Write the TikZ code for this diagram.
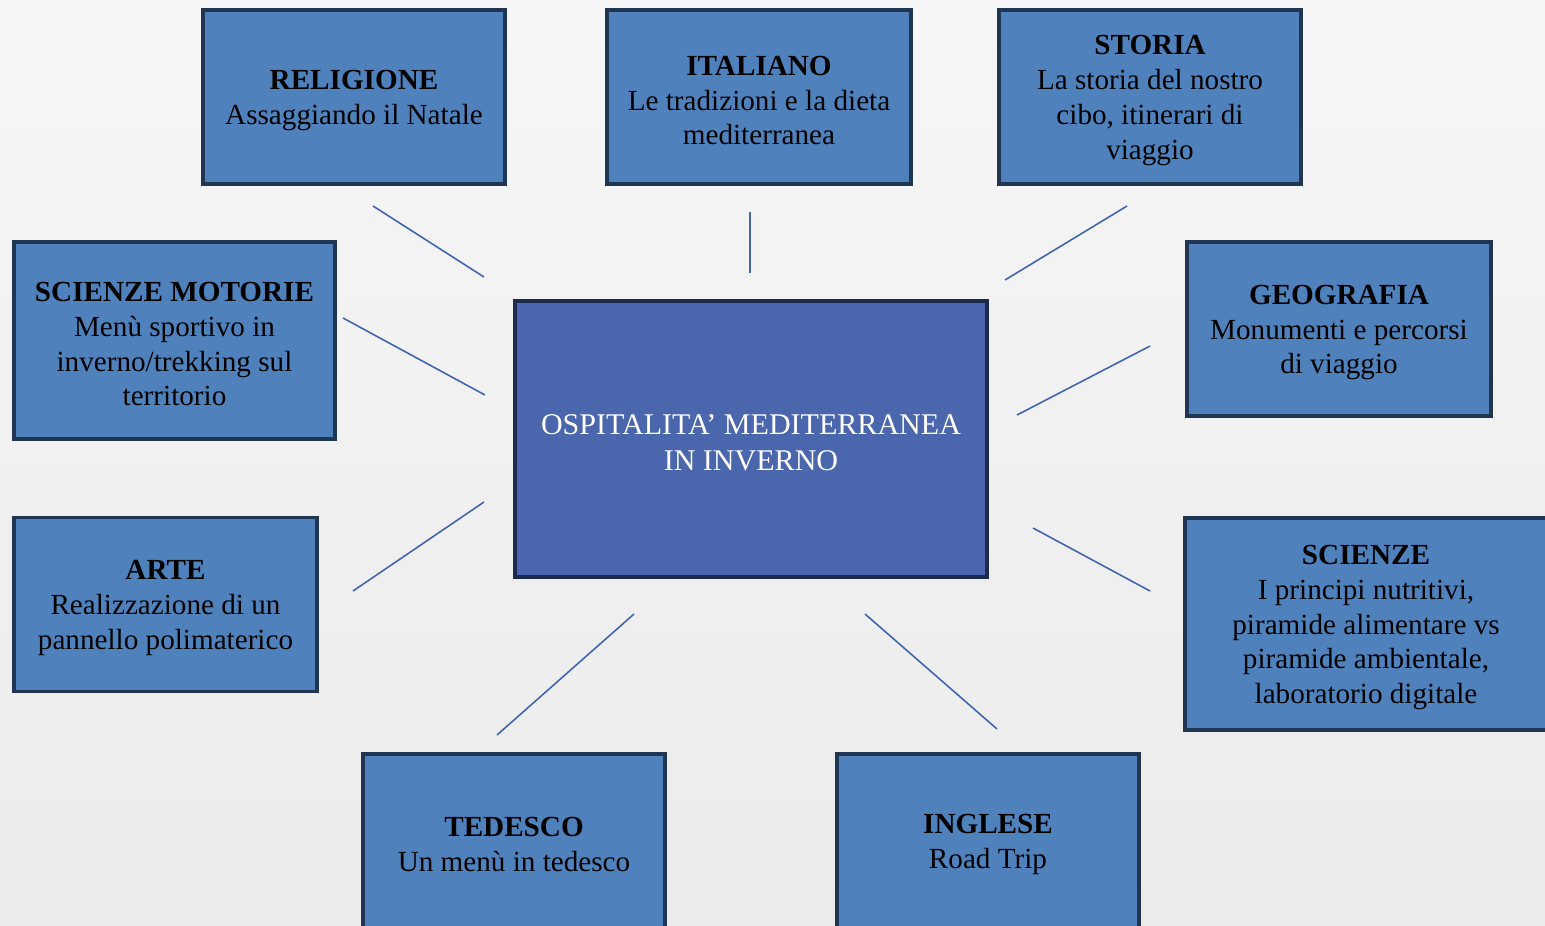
\documentclass[tikz,border=0pt]{standalone}
\usepackage{fontspec}
\setmainfont{Liberation Serif}
\definecolor{boxblue}{HTML}{4F81BD}
\definecolor{boxline}{HTML}{1F3552}
\definecolor{mainblue}{HTML}{4A66AC}
\definecolor{mainline}{HTML}{1C2A4C}
\definecolor{linkblue}{HTML}{4263B1}
\definecolor{bgtop}{HTML}{F6F6F6}
\definecolor{bgbot}{HTML}{EBEBEB}
\newcommand{\subjtitle}[1]{\rule{0pt}{15pt}\textbf{#1}}
\begin{document}
\begin{tikzpicture}[x=0.02cm, y=-0.02cm,
  subj/.style={draw=boxline, fill=boxblue, line width=2.2pt, align=center, inner sep=0pt,
    font=\fontsize{16.6}{19.9}\selectfont, text=black, minimum height=3.48cm},
  link/.style={draw=linkblue, line width=0.9pt}]
\useasboundingbox (0,0) rectangle (1545,926);
\clip (0,0) rectangle (1545,926);
\shade[top color=bgtop, bottom color=bgbot] (0,0) rectangle (1545,926);
% centre
\node[subj, draw=mainline, fill=mainblue, text=white, font=\fontsize{17.1}{20.4}\selectfont,
  minimum width=9.44cm, minimum height=5.52cm] (main) at (751,439) {\rule{0pt}{15.5pt}OSPITALITA’ MEDITERRANEA\\IN INVERNO};
% top row
\node[subj, minimum width=6.04cm] (rel) at (354,97) {\subjtitle{RELIGIONE}\\Assaggiando il Natale};
\node[subj, minimum width=6.08cm] (ita) at (759,97) {\subjtitle{ITALIANO}\\Le tradizioni e la dieta\\mediterranea};
\node[subj, minimum width=6.04cm] (sto) at (1150,97) {\subjtitle{STORIA}\\La storia del nostro\\cibo, itinerari di\\viaggio};
% sides
\node[subj, minimum width=6.42cm, minimum height=3.94cm] (mot) at (174.5,340.5) {\subjtitle{SCIENZE MOTORIE}\\Menù sportivo in\\inverno/trekking sul\\territorio};
\node[subj, minimum width=6.08cm] (geo) at (1339,329) {\subjtitle{GEOGRAFIA}\\Monumenti e percorsi\\di viaggio};
\node[subj, minimum width=6.06cm] (arte) at (165.5,604.5) {\subjtitle{ARTE}\\Realizzazione di un\\pannello polimaterico};
\node[subj, minimum width=7.24cm, minimum height=4.24cm] (sci) at (1366,624) {\subjtitle{SCIENZE}\\I principi nutritivi,\\piramide alimentare vs\\piramide ambientale,\\laboratorio digitale};
% bottom row
\node[subj, minimum width=6.04cm] (ted) at (514,841) {\subjtitle{TEDESCO}\\Un menù in tedesco};
\node[subj, minimum width=6.04cm] (ing) at (988,841) {\subjtitle{INGLESE}\\Road Trip};
% link ends
\coordinate (rel1) at (373,206); \coordinate (rel2) at (484,277);
\coordinate (ita1) at (750,212); \coordinate (ita2) at (750,273);
\coordinate (sto1) at (1127,206); \coordinate (sto2) at (1005,280);
\coordinate (mot1) at (343,318); \coordinate (mot2) at (485,395);
\coordinate (geo1) at (1150,346); \coordinate (geo2) at (1017,415);
\coordinate (arte1) at (353,591); \coordinate (arte2) at (484,502);
\coordinate (sci1) at (1150,591); \coordinate (sci2) at (1033,528);
\coordinate (ted1) at (497,735); \coordinate (ted2) at (634,614);
\coordinate (ing1) at (997,729); \coordinate (ing2) at (865,614);
\foreach \s in {rel,ita,sto,mot,geo,arte,sci,ted,ing}
  \draw[link] (\s1) -- (\s2);
\end{tikzpicture}
\end{document}
